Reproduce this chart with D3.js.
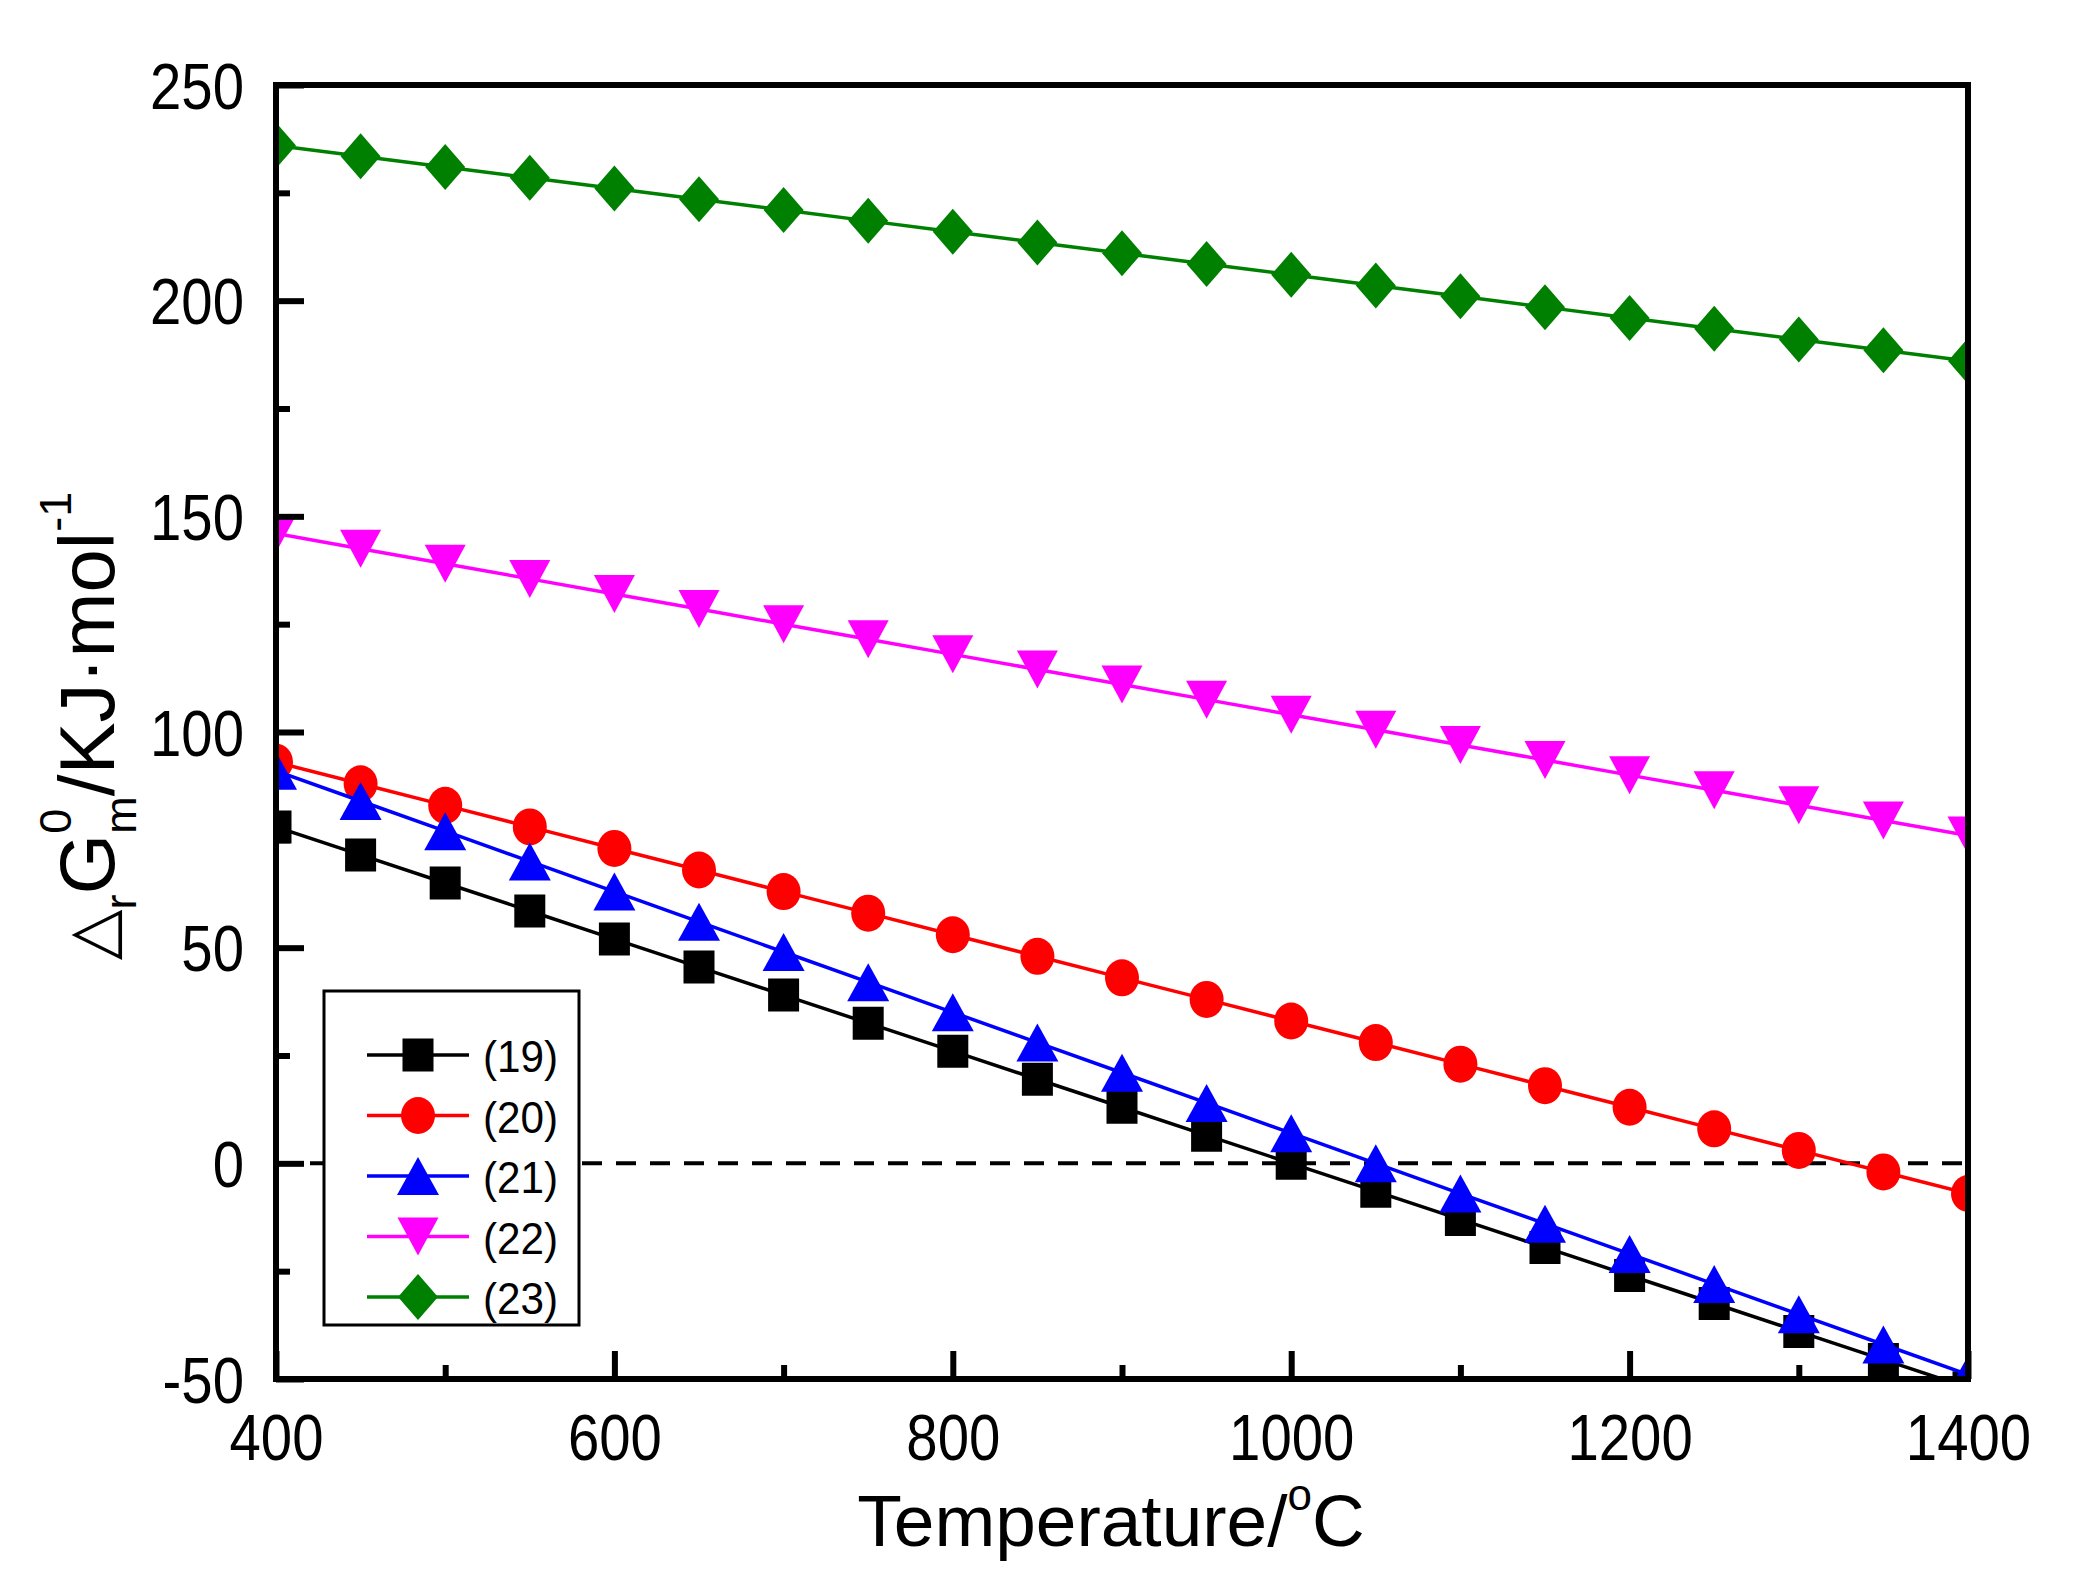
<!doctype html>
<html>
  <head>
    <title>Gibbs energy vs temperature</title>
    <script src="https://cdn.jsdelivr.net/npm/d3@7"></script>
    <style>
      body { margin: 0; background: #fff; }
      text { font-family: "Liberation Sans", Arial, sans-serif; fill: #000; }
    </style>
  </head>
  <body>
  <script>

// temperatures (°C) and reaction values
const temps = [400, 450, 500, 550, 600, 650, 700, 750, 800, 850, 900, 950,
               1000, 1050, 1100, 1150, 1200, 1250, 1300, 1350, 1400];

const r19 = [78, 71.5, 65, 58.5, 52, 45.5, 39, 32.5, 26, 19.5, 13, 6.5,
             0, -6.5, -13, -19.5, -26, -32.5, -39, -45.5, -52];
const r20 = [93, 88, 83, 78, 73, 68, 63, 58, 53, 48, 43, 38,
             33, 28, 23, 18, 13, 8, 3, -2, -7];
const r21 = [91, 84, 77, 70, 63, 56, 49, 42, 35, 28, 21, 14,
             7, 0, -7, -14, -21, -28, -35, -42, -49];
const r22 = [146, 142.5, 139, 135.5, 132, 128.5, 125, 121.5, 118, 114.5, 111, 107.5,
             104, 100.5, 97, 93.5, 90, 86.5, 83, 79.5, 76];
const r23 = [236, 233.5, 231, 228.5, 226, 223.5, 221, 218.5, 216, 213.5, 211, 208.5,
             206, 203.5, 201, 198.5, 196, 193.5, 191, 188.5, 186];

const seriesNames = ["(19)", "(20)", "(21)", "(22)", "(23)"];
const seriesValues = [r19, r20, r21, r22, r23];
const seriesColors = ["#000000", "#ff0000", "#0000ff", "#ff00ff", "#008000"];
const seriesShapes = ["square", "circle", "up", "down", "diamond"];

const xMajor = [400, 600, 800, 1000, 1200, 1400];
const xMinor = [500, 700, 900, 1100, 1300];
const yMajor = [-50, 0, 50, 100, 150, 200, 250];
const yMinor = [-25, 25, 75, 125, 175, 225];

const W = 2086, H = 1587;
const pLeft = 276, pRight = 1968, pTop = 85, pBottom = 1379;

const svg = d3.select("body").append("svg")
  .attr("width", W).attr("height", H);

const x = d3.scaleLinear().domain([400, 1400]).range([pLeft, pRight]);
const y = d3.scaleLinear().domain([-50, 250]).range([pBottom, pTop]);

// squeeze text a bit horizontally, the original labels are narrow
function squeeze(sel, k) {
  sel.each(function () {
    const len = this.getComputedTextLength();
    d3.select(this).attr("textLength", len * k).attr("lengthAdjust", "spacingAndGlyphs");
  });
}

// marker path, centred on 0,0
function markerPath(shape) {
  if (shape == "square") return "M-15.5,-16.5H15.5V16.5H-15.5Z";
  if (shape == "up") return "M0,-19L21,19H-21Z";
  if (shape == "down") return "M0,19L20.5,-19H-20.5Z";
  if (shape == "diamond") return "M0,-23L20,0L0,23L-20,0Z";
  return null;
}
function drawMarker(g, shape, color) {
  if (shape == "circle") {
    return g.append("ellipse").attr("rx", 17).attr("ry", 18.5).attr("fill", color);
  }
  return g.append("path").attr("d", markerPath(shape)).attr("fill", color);
}

svg.append("clipPath").attr("id", "plotClip")
  .append("rect").attr("x", pLeft).attr("y", pTop)
  .attr("width", pRight - pLeft).attr("height", pBottom - pTop);

const plot = svg.append("g").attr("clip-path", "url(#plotClip)");

// zero line
plot.append("line")
  .attr("x1", pLeft).attr("x2", pRight)
  .attr("y1", y(0)).attr("y2", y(0))
  .attr("stroke", "#000").attr("stroke-width", 4)
  .attr("stroke-dasharray", "20,14");

const line = d3.line().x((d, i) => x(temps[i])).y(d => y(d));

seriesValues.forEach((vals, s) => {
  const g = plot.append("g");
  g.append("path").datum(vals)
    .attr("d", line)
    .attr("fill", "none")
    .attr("stroke", seriesColors[s])
    .attr("stroke-width", 3.5);
  vals.forEach((v, i) => {
    const m = g.append("g").attr("transform", `translate(${x(temps[i])},${y(v)})`);
    drawMarker(m, seriesShapes[s], seriesColors[s]);
  });
});

// axes
const plain = d => String(d);
const xAxisMinor = d3.axisBottom(x).tickValues(xMinor).tickSize(-14).tickFormat("");
const xAxisMajor = d3.axisBottom(x).tickValues(xMajor).tickSize(-28).tickPadding(36).tickFormat(plain);
const yAxisMinor = d3.axisLeft(y).tickValues(yMinor).tickSize(-14).tickFormat("");
const yAxisMajor = d3.axisLeft(y).tickValues(yMajor).tickSize(-28).tickPadding(32).tickFormat(plain);

function styleAxis(g) {
  g.select(".domain").remove();
  g.selectAll(".tick line").attr("stroke", "#000").attr("stroke-width", 6);
  g.selectAll(".tick text")
    .attr("font-size", 64)
    .attr("font-family", "Liberation Sans, Arial, sans-serif")
    .attr("fill", "#000");
}

svg.append("g").attr("transform", `translate(0,${pBottom})`).call(xAxisMinor).call(styleAxis);
const gx = svg.append("g").attr("transform", `translate(0,${pBottom})`).call(xAxisMajor).call(styleAxis);
svg.append("g").attr("transform", `translate(${pLeft},0)`).call(yAxisMinor).call(styleAxis);
const gy = svg.append("g").attr("transform", `translate(${pLeft},0)`).call(yAxisMajor).call(styleAxis);
gy.selectAll(".tick text").attr("dy", "0.36em");
squeeze(gx.selectAll(".tick text"), 0.88);
squeeze(gy.selectAll(".tick text"), 0.88);

// frame
svg.append("rect")
  .attr("x", pLeft).attr("y", pTop)
  .attr("width", pRight - pLeft).attr("height", pBottom - pTop)
  .attr("fill", "none").attr("stroke", "#000").attr("stroke-width", 6);

// legend
const lg = svg.append("g");
lg.append("rect")
  .attr("x", 324).attr("y", 991).attr("width", 255).attr("height", 334)
  .attr("fill", "#fff").attr("stroke", "#000").attr("stroke-width", 3);
seriesNames.forEach((name, s) => {
  const cy = 1055 + s * 60.5;
  lg.append("line")
    .attr("x1", 367).attr("x2", 469).attr("y1", cy).attr("y2", cy)
    .attr("stroke", seriesColors[s]).attr("stroke-width", 3.5);
  const m = lg.append("g").attr("transform", `translate(418,${cy})`);
  drawMarker(m, seriesShapes[s], seriesColors[s]);
  lg.append("text")
    .attr("class", "legend-label")
    .attr("x", 483).attr("y", cy + 17)
    .attr("font-size", 44)
    .text(name);
});
squeeze(lg.selectAll(".legend-label"), 0.96);

// x title
const xt = svg.append("text")
  .attr("x", 1111).attr("y", 1546)
  .attr("text-anchor", "middle")
  .attr("font-size", 73);
xt.append("tspan").text("Temperature/");
xt.append("tspan").attr("font-size", 44).attr("dy", -36).text("o");
xt.append("tspan").attr("dy", 36).text("C");

// y title
const yt = svg.append("text")
  .attr("transform", "translate(114,726) rotate(-90)")
  .attr("text-anchor", "middle")
  .attr("font-size", 78);
yt.append("tspan").attr("font-family", "DejaVu Sans").attr("font-size", 66).text("△");
yt.append("tspan").attr("font-size", 45).attr("dy", 22).text("r");
yt.append("tspan").attr("dy", -22).text("G");
yt.append("tspan").attr("font-size", 45).attr("dy", -43).text("0");
yt.append("tspan").attr("font-size", 45).attr("dx", -25).attr("dy", 65).text("m");
yt.append("tspan").attr("dy", -22).text("/KJ·mol");
yt.append("tspan").attr("font-size", 45).attr("dy", -43).text("-1");

  </script>
</body>
</html>
